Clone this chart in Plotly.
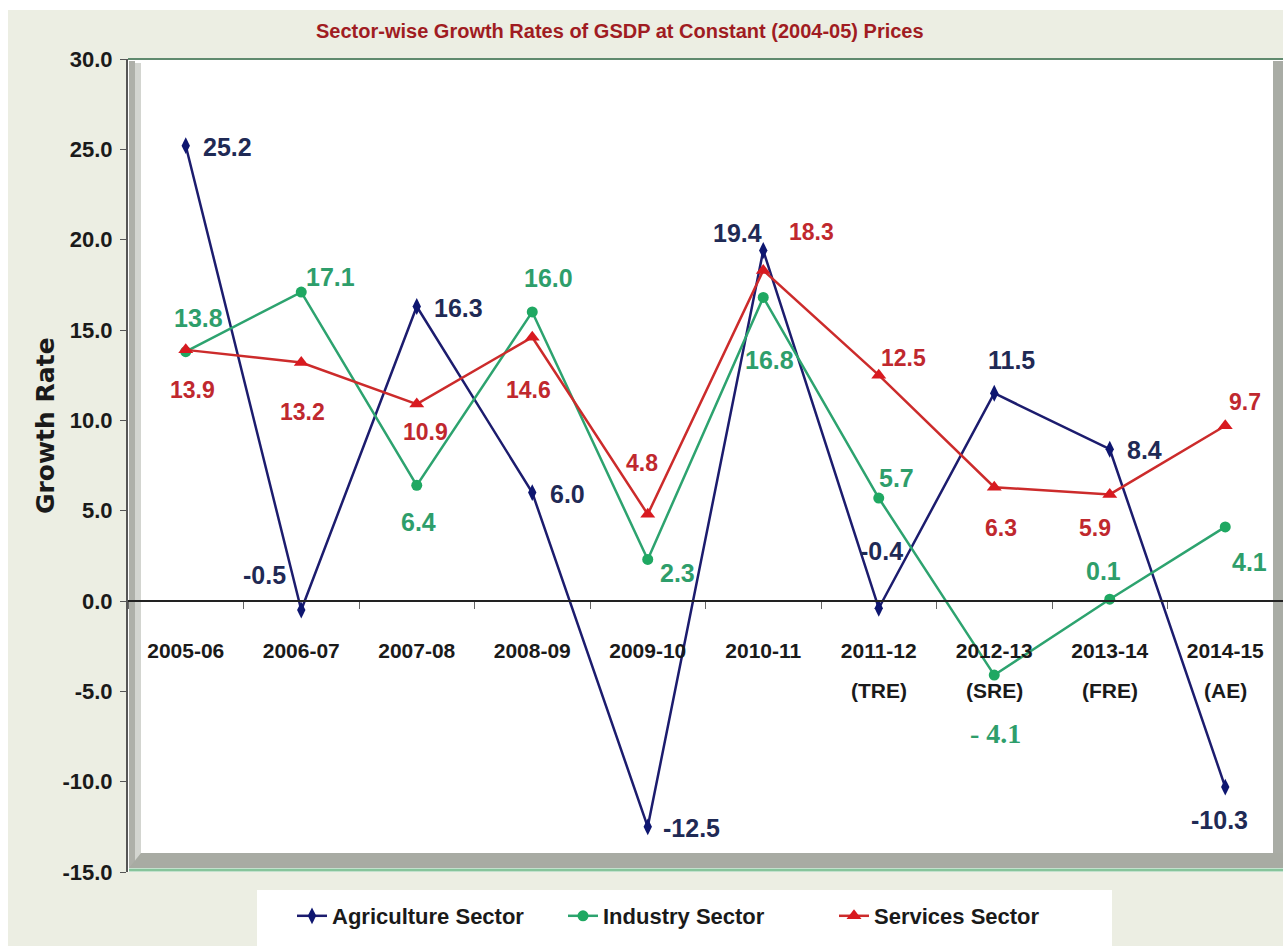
import plotly.graph_objects as go

# ---- data -------------------------------------------------------------
years = ["2005-06", "2006-07", "2007-08", "2008-09", "2009-10", "2010-11",
         "2011-12", "2012-13", "2013-14", "2014-15"]
year_notes = ["", "", "", "", "", "", "(TRE)", "(SRE)", "(FRE)", "(AE)"]
agriculture = [25.2, -0.5, 16.3, 6.0, -12.5, 19.4, -0.4, 11.5, 8.4, -10.3]
industry = [13.8, 17.1, 6.4, 16.0, 2.3, 16.8, 5.7, -4.1, 0.1, 4.1]
services = [13.9, 13.2, 10.9, 14.6, 4.8, 18.3, 12.5, 6.3, 5.9, 9.7]
y_ticks = [-15, -10, -5, 0, 5, 10, 15, 20, 25, 30]

# ---- page geometry ----------------------------------------------------
W, H = 1283, 946
ML, MR, MT, MB = 128, 0, 59, 74
PW, PH = W - ML - MR, H - MT - MB


def px(x):
    return (x - ML) / PW


def py(y):
    return (H - MB - y) / PH


SANS = "Liberation Sans, Arial, sans-serif"
SERIF = "Liberation Serif, Times New Roman, serif"
BG = "#ECEEE3"
INK = "#1A1A1A"

# label offsets (dx, dy) in screen pixels from each marker
agri_off = [(42, 1), (-37, -35), (42, 1), (35, 1), (44, 1), (-26, -18), (3, -57), (17, -33), (35, 1), (-6, 33)]
ind_off = [(13, -34), (29, -15), (2, 37), (16, -34), (30, 14), (6, 63), (18, -20), (1, 58), (-6, -28), (24, 35)]
serv_off = [(7, 40), (1, 49), (9, 28), (-4, 53), (-6, -51), (48, -38), (25, -17), (7, 41), (-15, 34), (20, -24)]

series = [
    dict(name="Agriculture Sector", vals=agriculture, line="#1C1C6E", marker="#0E1670",
         symbol="diamond-tall", msize=12, lab="#1F2A55", lsize=25, off=agri_off),
    dict(name="Industry Sector", vals=industry, line="#2DA36F", marker="#1FA862",
         symbol="circle", msize=11, lab="#2E9E6B", lsize=25, off=ind_off),
    dict(name="Services Sector", vals=services, line="#CC2B2B", marker="#D81A20",
         symbol="triangle-up", msize=13, lab="#C0282E", lsize=23, off=serv_off),
]

fig = go.Figure()
annotations = []
for s in series:
    fig.add_trace(go.Scatter(
        x=years, y=s["vals"], name=s["name"], mode="lines+markers",
        line=dict(color=s["line"], width=2.5),
        marker=dict(symbol=s["symbol"], size=s["msize"], color=s["marker"]),
    ))
    for cat, v, (dx, dy) in zip(years, s["vals"], s["off"]):
        txt, fam, size = f"{v:.1f}", SANS, s["lsize"]
        if s["name"] == "Industry Sector" and v < 0:
            txt, fam, size = f"- {abs(v):.1f}", SERIF, 28
        annotations.append(dict(
            x=cat, y=v, xref="x", yref="y", text=txt, showarrow=False,
            xshift=dx, yshift=-dy, xanchor="center", yanchor="middle",
            font=dict(family=fam, size=size, color=s["lab"], weight="bold"),
        ))

# second line of the category labels (estimate status)
for cat, note in zip(years, year_notes):
    if note:
        annotations.append(dict(
            x=cat, y=0, xref="x", yref="y", text=note, showarrow=False,
            yshift=-89, xanchor="center", yanchor="middle",
            font=dict(family=SANS, size=21, color=INK, weight="bold"),
        ))

# title and y-axis caption
annotations.append(dict(
    x=px(620), y=py(31), xref="paper", yref="paper", showarrow=False,
    text="Sector-wise Growth Rates of GSDP at Constant (2004-05) Prices",
    xanchor="center", yanchor="middle",
    font=dict(family=SANS, size=20, color="#A01C22", weight="bold"),
))
annotations.append(dict(
    x=px(45), y=py(426), xref="paper", yref="paper", showarrow=False,
    text="Growth Rate", textangle=-90, xanchor="center", yanchor="middle",
    font=dict(family="DejaVu Sans, sans-serif", size=25, color=INK, weight="bold"),
))

shapes = [
    # white strips round the page edge
    dict(type="rect", xref="paper", yref="paper", x0=px(0), x1=px(W), y0=py(0), y1=py(10),
         fillcolor="white", line_width=0, layer="below"),
    dict(type="rect", xref="paper", yref="paper", x0=px(0), x1=px(8), y0=py(0), y1=py(H),
         fillcolor="white", line_width=0, layer="below"),
    # 3-D wall: left side
    dict(type="rect", xref="paper", yref="paper", x0=px(129), x1=px(135), y0=py(868), y1=py(61),
         fillcolor="#AEB0A9", line_width=0, layer="below"),
    dict(type="rect", xref="paper", yref="paper", x0=px(135), x1=px(141), y0=py(860), y1=py(63),
         fillcolor="#D3D5D0", line_width=0, layer="below"),
    # 3-D wall: right side
    dict(type="rect", xref="paper", yref="paper", x0=px(1273), x1=px(1283), y0=py(868), y1=py(61),
         fillcolor="#A9ACA5", line_width=0, layer="below"),
    # floor
    dict(type="path", xref="paper", yref="paper",
         path=f"M {px(141)} {py(853)} L {px(1283)} {py(853)} L {px(1283)} {py(868)} L {px(129)} {py(868)} Z",
         fillcolor="#A8ABA3", line_width=0, layer="below"),
    dict(type="line", xref="paper", yref="paper", x0=px(129), x1=px(1283), y0=py(870), y1=py(870),
         line=dict(color="#86C49B", width=3), layer="below"),
    # top edge
    dict(type="line", xref="paper", yref="paper", x0=px(128), x1=px(1283), y0=py(59), y1=py(59),
         line=dict(color="#5F8A6E", width=2), layer="below"),
    # legend panel
    dict(type="rect", xref="paper", yref="paper", x0=px(257), x1=px(1112), y0=py(H), y1=py(890),
         fillcolor="white", line_width=0, layer="below"),
]

fig.update_layout(
    width=W, height=H,
    margin=dict(l=ML, r=MR, t=MT, b=MB, pad=0),
    paper_bgcolor=BG, plot_bgcolor="white",
    showlegend=True,
    legend=dict(orientation="h", x=px(292), y=py(895), xanchor="left", yanchor="top",
                bgcolor="rgba(0,0,0,0)", entrywidth=226, entrywidthmode="pixels",
                font=dict(family=SANS, size=22, color=INK, weight="bold"),
                itemclick=False),
    annotations=annotations,
    shapes=shapes,
    xaxis=dict(
        type="category", range=[-0.5, 9.5], anchor="free", position=1 / 3,
        showline=True, linecolor="#222222", linewidth=1.5,
        ticks="outside", tickson="boundaries", ticklen=7, tickcolor="#666666",
        showgrid=False, zeroline=False,
        tickfont=dict(family=SANS, size=21, color=INK, weight="bold"),
        ticklabelstandoff=31,
    ),
    yaxis=dict(
        range=[-15, 30], tickmode="array", tickvals=y_ticks,
        ticktext=[f"{t:.1f}" for t in y_ticks],
        showline=True, linecolor="#555555", linewidth=2, mirror=False,
        ticks="outside", ticklen=6, tickcolor="#555555",
        showgrid=False, zeroline=False,
        tickfont=dict(family=SANS, size=22, color=INK, weight="bold"),
        ticklabelstandoff=3,
    ),
)

fig.write_html("out.html")
